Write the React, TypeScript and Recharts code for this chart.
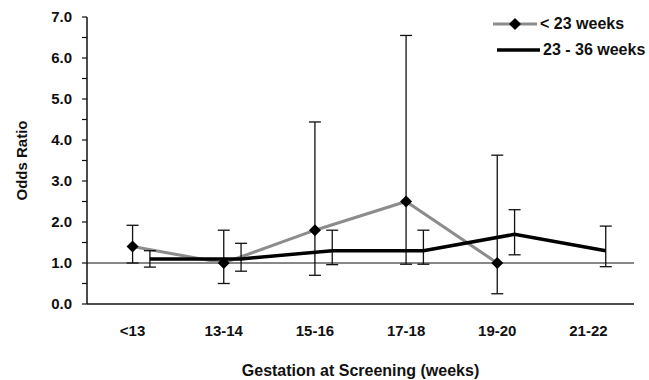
import React from 'react';
import { LineChart, Line, XAxis, YAxis, ErrorBar, ReferenceLine, Legend } from 'recharts';

const categories = ['<13', '13-14', '15-16', '17-18', '19-20', '21-22'];

// < 23 weeks (no value at 21-22)
const earlyOR = [1.4, 1.0, 1.8, 2.5, 1.0];
const earlyLow = [1.0, 0.5, 0.7, 0.97, 0.25];
const earlyHigh = [1.92, 1.8, 4.44, 6.55, 3.63];

// 23 - 36 weeks
const lateOR = [1.1, 1.1, 1.3, 1.3, 1.7, 1.3];
const lateLow = [0.9, 0.8, 0.96, 0.97, 1.2, 0.91];
const lateHigh = [1.3, 1.48, 1.8, 1.8, 2.3, 1.9];

const yTicks = [0, 0.5, 1, 1.5, 2, 2.5, 3, 3.5, 4, 4.5, 5, 5.5, 6, 6.5, 7];
const boundaryTicks = [0, 1, 2, 3, 4, 5, 6];
const labelTicks = [0.5, 1.5, 2.5, 3.5, 4.5, 5.5];

const LATE_SHIFT = 0.19;
const FONT = '"Liberation Sans", Arial, sans-serif';
const GRAY = '#8c8c8c';
const INK = '#111';

const earlyData = earlyOR.map((v, i) => ({
  x: i + 0.5,
  y: v,
  err: [v - earlyLow[i], earlyHigh[i] - v],
}));
const lateData = lateOR.map((v, i) => ({
  x: i + 0.5 + LATE_SHIFT,
  y: v,
  err: [v - lateLow[i], lateHigh[i] - v],
}));

const Diamond = (props: any) => {
  const { cx, cy } = props;
  if (cx == null || cy == null) return null;
  return (
    <polygon
      key={props.index}
      points={`${cx},${cy - 6} ${cx + 6},${cy} ${cx},${cy + 6} ${cx - 6},${cy}`}
      fill="#000"
    />
  );
};

const LegendContent = () => (
  <div style={{ fontFamily: FONT, fontWeight: 'bold', fontSize: 16, color: INK }}>
    <div style={{ display: 'flex', alignItems: 'center', height: 26 }}>
      <svg width={48} height={14}>
        <line x1={2} y1={7} x2={46} y2={7} stroke={GRAY} strokeWidth={3} />
        <polygon points="24,1 30,7 24,13 18,7" fill="#000" />
      </svg>
      <span style={{ marginLeft: 1 }}>&lt; 23 weeks</span>
    </div>
    <div style={{ display: 'flex', alignItems: 'center', height: 26 }}>
      <svg width={50} height={14}>
        <line x1={6} y1={7} x2={49} y2={7} stroke="#000" strokeWidth={3.5} />
      </svg>
      <span style={{ marginLeft: 2 }}>23 - 36 weeks</span>
    </div>
  </div>
);

const YLabel = (props: any) => {
  const vb = props.viewBox || {};
  const cy = (vb.y || 0) + (vb.height || 0) / 2;
  const cx = 21;
  return (
    <text
      x={cx}
      y={cy}
      transform={`rotate(-90 ${cx} ${cy})`}
      textAnchor="middle"
      dominantBaseline="central"
      fontFamily={FONT}
      fontWeight="bold"
      fontSize={15}
      fill={INK}
    >
      Odds Ratio
    </text>
  );
};

export default function App() {
  return (
    <div style={{ position: 'absolute', left: 0, top: 0, background: '#fff' }}>
      <LineChart width={649} height={380} margin={{ top: 17, right: 15, left: 0, bottom: 0 }}>
        <XAxis
          xAxisId="a"
          type="number"
          dataKey="x"
          domain={[0, 6]}
          ticks={boundaryTicks}
          interval={0}
          tick={false}
          tickSize={7}
          height={8}
          axisLine={{ stroke: INK, strokeWidth: 1.5 }}
          tickLine={{ stroke: INK, strokeWidth: 1.5 }}
          allowDataOverflow
        />
        <XAxis
          xAxisId="b"
          type="number"
          dataKey="x"
          domain={[0, 6]}
          ticks={labelTicks}
          interval={0}
          tickFormatter={(v: number) => categories[Math.floor(v)]}
          axisLine={false}
          tickLine={false}
          tickMargin={7}
          height={68}
          tick={{ fontSize: 15, fontWeight: 'bold', fill: INK, fontFamily: FONT }}
          label={{
            value: 'Gestation at Screening (weeks)',
            position: 'insideBottom',
            offset: 4,
            fontSize: 16,
            fontWeight: 'bold',
            fill: INK,
            fontFamily: FONT,
          }}
          allowDataOverflow
        />
        <YAxis
          type="number"
          domain={[0, 7]}
          ticks={yTicks}
          interval={0}
          tickFormatter={(v: number) => (Number.isInteger(v) ? v.toFixed(1) : '')}
          width={87}
          tickSize={5}
          tickMargin={10}
          axisLine={{ stroke: INK, strokeWidth: 1.5 }}
          tickLine={{ stroke: INK, strokeWidth: 1.2 }}
          tick={{ fontSize: 15, fontWeight: 'bold', fill: INK, fontFamily: FONT }}
          label={<YLabel />}
          allowDataOverflow
        />
        <ReferenceLine xAxisId="a" y={1} stroke={INK} strokeWidth={1} />
        <Legend
          layout="horizontal"
          verticalAlign="middle"
          align="center"
          content={<LegendContent />}
          wrapperStyle={{ left: 491, top: 11, width: 158, height: 52 }}
        />
        <Line
          xAxisId="b"
          data={earlyData}
          dataKey="y"
          stroke={GRAY}
          strokeWidth={3}
          dot={<Diamond />}
          activeDot={false}
          isAnimationActive={false}
          name="< 23 weeks"
        >
          <ErrorBar dataKey="err" direction="y" width={6} stroke={INK} strokeWidth={1.3} />
        </Line>
        <Line
          xAxisId="a"
          data={lateData}
          dataKey="y"
          stroke="#000"
          strokeWidth={3.5}
          dot={false}
          activeDot={false}
          isAnimationActive={false}
          name="23 - 36 weeks"
        >
          <ErrorBar dataKey="err" direction="y" width={6} stroke={INK} strokeWidth={1.3} />
        </Line>
      </LineChart>
    </div>
  );
}
